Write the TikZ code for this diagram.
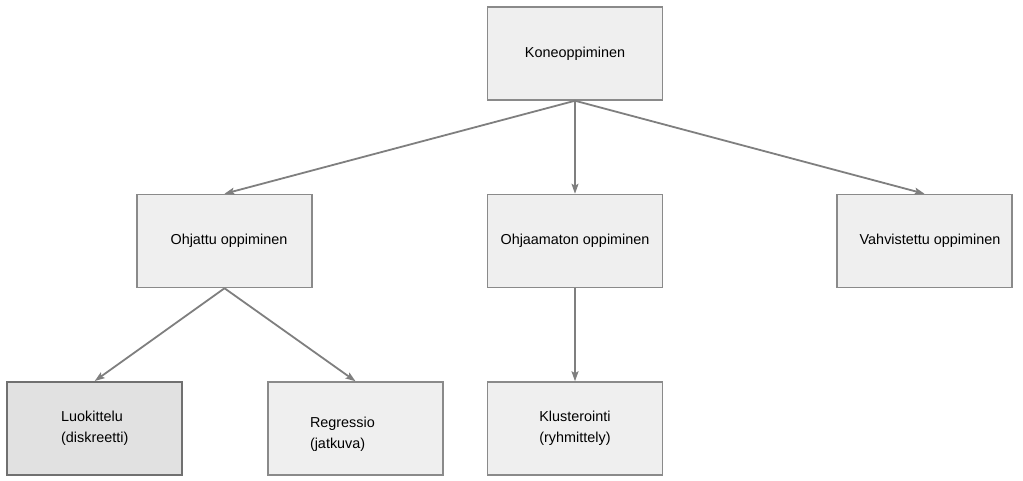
\documentclass[tikz,border=0pt]{standalone}
\usepackage{fontspec}
\setmainfont{Liberation Sans}
\usepackage{xcolor}
\usetikzlibrary{arrows.meta,positioning}
\definecolor{boxline}{HTML}{8A8A8A}
\definecolor{boxfill}{HTML}{EFEFEF}
\definecolor{selline}{HTML}{707070}
\definecolor{selfill}{HTML}{E1E1E1}
\definecolor{arrline}{HTML}{7F7F7F}

\begin{document}
\begin{tikzpicture}[
  x=1pt, y=1pt,
  font=\fontsize{14.4}{21}\selectfont,
  box/.style={draw=boxline, line width=1.5pt, fill=boxfill,
              minimum width=175pt, minimum height=93pt, inner sep=0pt,
              align=center},
  selbox/.style={box, draw=selline, line width=2pt, fill=selfill},
  arr/.style={-{Stealth[length=10pt, width=7pt, inset=2pt]},
              arrline, line width=1.8pt}
]
\useasboundingbox (0,0) rectangle (1023,-481);
\node[box] (kone) at (575,-53.5) {Koneoppiminen};
\node[box, below=93pt of kone] (ohjaamaton) {Ohjaamaton oppiminen};
\node[box, left=174pt of ohjaamaton] (ohjattu)
  {\hspace*{9pt}Ohjattu oppiminen};
\node[box, right=173pt of ohjaamaton] (vahvistettu)
  {\hspace*{11pt}Vahvistettu oppiminen};
\node[box, below=93pt of ohjaamaton, align=left] (klusterointi)
  {Klusterointi\\(ryhmittely)};
\node[box, left=43pt of klusterointi, align=left, text width=91pt,
      inner xsep=42pt] (regressio)
  {\rule{0pt}{22pt}Regressio\\(jatkuva)};
\node[selbox, left=84pt of regressio, align=left] (luokittelu)
  {Luokittelu\\(diskreetti)};
\draw[arr] (kone.south) -- (ohjattu.north);
\draw[arr] (kone.south) -- (ohjaamaton.north);
\draw[arr] (kone.south) -- (vahvistettu.north);
\draw[arr] (ohjattu.south) -- (luokittelu.north);
\draw[arr] (ohjattu.south) -- (regressio.north);
\draw[arr] (ohjaamaton.south) -- (klusterointi.north);
\end{tikzpicture}
\end{document}
